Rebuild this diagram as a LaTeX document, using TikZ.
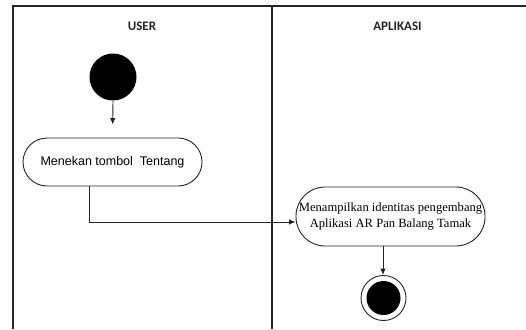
\documentclass[tikz,border=0pt]{standalone}
\usepackage{fontspec}
\setmainfont{Liberation Serif}
\newfontfamily\headfont{Carlito}
\newfontfamily\arialfont{Liberation Sans}
\usetikzlibrary{arrows.meta}
\tikzset{
  lane/.style={draw=black!85, line width=1.5pt},
  lanehead/.style={font=\headfont\bfseries\fontsize{13}{15}\selectfont, text=black!85},
  actbox/.style={draw=black!85, line width=0.9pt, rectangle, rounded corners=#1, inner sep=0pt},
  flow/.style={draw=black!85, line width=0.9pt, -{Latex[length=6.5pt,width=5.5pt]}},
}
\begin{document}
\begin{tikzpicture}[x=1pt,y=-1pt]
  \useasboundingbox (0,0) rectangle (526,329);
  % swimlane frame
  \draw[lane] (13,329) -- (13,6) -- (526,6);
  \draw[lane] (272,6) -- (272,329);
  \node[lanehead] (huser) at (142,26) {USER};
  \node[lanehead] (happ) at (397.5,26) {APLIKASI};

  % start state
  \node[circle, fill=black, minimum size=47pt, inner sep=0pt] (start) at (113,77) {};

  % activities
  \node[actbox=24pt, minimum width=179pt, minimum height=48pt,
        font=\arialfont\fontsize{12.5}{14}\selectfont] (b1) at (112.5,162)
        {Menekan tombol \ Tentang};
  \node[actbox=29pt, minimum width=189pt, minimum height=59pt, align=center,
        font=\fontsize{12.6}{15.5}\selectfont] (b2) at (390.5,216.5)
        {Menampilkan identitas pengembang\\Aplikasi AR Pan Balang Tamak};

  % end state
  \node[circle, draw=black!85, line width=0.9pt, minimum size=45pt, inner sep=0pt] (end) at (383.5,298) {};
  \node[circle, fill=black, minimum size=34pt, inner sep=0pt] (endin) at (end.center) {};

  % transitions
  \draw[flow, shorten >=13pt] (start.south) -- (b1.north);
  \draw[flow] ([xshift=-23.5pt]b1.south) |- ([yshift=-5.5pt]b2.west);
  \draw[flow] ([xshift=-7.5pt]b2.south) -- ([xshift=-7.5pt]b2.south |- end.north);
\end{tikzpicture}
\end{document}
